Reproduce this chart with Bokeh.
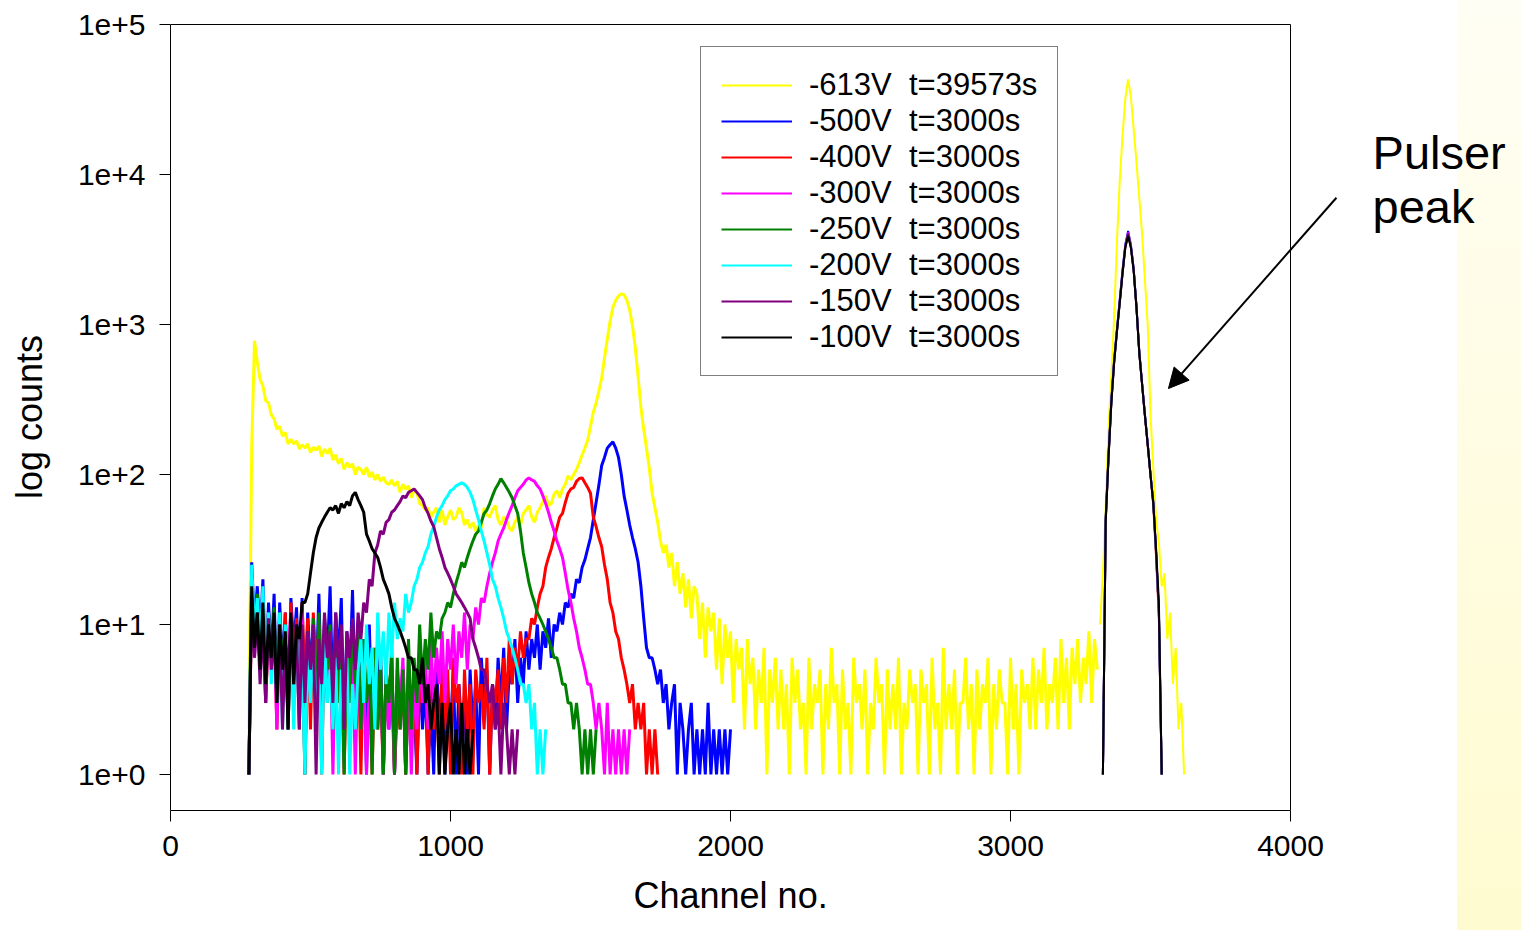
import numpy as np
from bokeh.plotting import figure
from bokeh.models import (Legend, LegendItem, FixedTicker, Arrow, NormalHead,
                          Label, Range1d, Title)
from bokeh.embed import file_html
from bokeh.resources import INLINE

# ---------------- data (counts) ----------------
CH_START = 280          # first channel of the main spectra
PULSER_START = 3320     # first channel of the pulser region
CH_STEP = 10            # channel step

series_labels = ["-613V  t=39573s", "-500V  t=3000s", "-400V  t=3000s",
                 "-300V  t=3000s", "-250V  t=3000s", "-200V  t=3000s",
                 "-150V  t=3000s", "-100V  t=3000s"]
series_colors = ["#FFFF00", "#0000FF", "#FF0000", "#FF00FF",
                 "#008000", "#00FFFF", "#800080", "#000000"]

yellow_main = [2, 150, 780, 560, 430, 390, 310, 300, 250, 235,
               200, 210, 180, 190, 160, 172, 160, 168, 148, 158,
               150, 160, 140, 152, 145, 155, 132, 148, 138, 150,
               125, 135, 118, 128, 108, 120, 112, 118, 100, 112,
               108, 100, 112, 96, 104, 92, 100, 90, 96, 88,
               86, 92, 84, 90, 76, 86, 80, 84, 70, 78,
               76, 64, 62, 58, 60, 52, 56, 60, 48, 58,
               46, 52, 58, 50, 52, 60, 56, 46, 50, 44,
               48, 42, 46, 44, 60, 54, 52, 58, 62, 50,
               46, 52, 50, 44, 42, 48, 52, 46, 55, 58,
               62, 52, 48, 56, 60, 66, 72, 62, 64, 74,
               78, 70, 80, 86, 98, 92, 100, 108, 120, 135,
               150, 170, 210, 260, 300, 360, 440, 600, 800, 1050,
               1300, 1450, 1550, 1600, 1580, 1450, 1250, 980, 700, 450,
               280, 200, 150, 110, 75, 60, 48, 36, 30, 34,
               24, 30, 18, 26, 16, 22, 13, 20, 11, 18,
               16, 8, 14, 6, 13, 9, 12, 5, 11, 4,
               10, 6, 9, 3, 8, 5, 7, 2, 8, 4,
               6, 2, 5, 3, 7, 1, 5, 3, 6, 2,
               5, 2, 4, 1, 6, 3, 5, 2, 3, 1,
               6, 2, 4, 3, 5, 1, 4, 2, 7, 3,
               4, 1, 5, 2, 3, 1, 6, 3, 4, 2,
               5, 1, 3, 2, 6, 3, 4, 1, 5, 2,
               4, 2, 6, 1, 3, 2, 5, 3, 4, 1,
               5, 3, 4, 1, 6, 2, 3, 1, 7, 2,
               4, 2, 5, 1, 3, 3, 6, 2, 4, 1,
               5, 2, 4, 3, 6, 1, 4, 2, 5, 3,
               3, 1, 6, 2, 4, 1, 5, 3, 4, 2,
               6, 2, 5, 3, 7, 2, 4, 3, 6, 2,
               8, 3, 6, 2, 7, 4, 8, 3, 6, 4,
               9, 3, 8, 5]
yellow_pulser = [10, 22, 60, 200, 450, 1100, 3500, 9000, 18000, 32000,
                 43000, 33000, 20000, 12000, 7000, 4000, 2000, 1000, 250, 110,
                 50, 35, 18, 22, 8, 12, 4, 7, 2, 3, 1]

blue_main = [1, 26, 10, 18, 8, 20, 4, 14, 6, 16,
             3, 14, 5, 12, 2, 15, 7, 13, 4, 15,
             2, 12, 5, 10, 4, 16, 3, 11, 6, 18,
             3, 12, 6, 15, 2, 9, 4, 17, 3, 10,
             4, 8, 1, 10, 2, 6, 3, 7, 1, 5,
             2, 6, 1, 4, 3, 5, 1, 4, 2, 3,
             1, 5, 2, 4, 1, 3, 1, 6, 2, 4,
             1, 3, 2, 5, 1, 4, 2, 3, 1, 5,
             2, 4, 1, 6, 3, 5, 1, 4, 2, 6,
             3, 7, 2, 5, 4, 8, 3, 6, 4, 9,
             5, 8, 6, 10, 5, 9, 7, 11, 6, 10,
             9, 12, 10, 14, 13, 16, 15, 20, 19, 24,
             27, 32, 38, 50, 65, 85, 115, 130, 150, 158,
             165, 150, 130, 100, 72, 58, 46, 38, 32, 26,
             18, 11, 7, 6, 6, 5, 4, 5, 3, 4,
             2, 3, 4, 1, 3, 2, 1, 2, 3, 1,
             2, 1, 2, 1, 3, 1, 2, 1, 2, 1,
             2, 1, 2]
blue_pulser = [None, 1, 52, 135, 310, 580, 930, 1450, 2300, 3400,
               4200, 3400, 2350, 1300, 660, 400, 250, 160, 100, 65, 30, 12, 1]

red_main = [1, 16, 7, 13, 5, 12, 3, 10, 6, 11,
            2, 10, 4, 12, 3, 14, 5, 11, 2, 14,
            4, 11, 2, 12, 5, 10, 1, 9, 3, 8,
            2, 9, 4, 8, 1, 7, 3, 6, 2, 8,
            1, 7, 3, 5, 1, 6, 2, 4, 1, 5,
            3, 4, 1, 3, 2, 5, 1, 4, 2, 5,
            1, 4, 3, 6, 1, 5, 2, 4, 1, 6,
            2, 5, 1, 6, 3, 4, 1, 5, 2, 4,
            1, 5, 3, 4, 2, 6, 1, 4, 3, 5,
            2, 6, 3, 8, 4, 7, 5, 9, 6, 8,
            8, 11, 10, 13, 16, 18, 24, 28, 32, 38,
            44, 52, 55, 65, 75, 80, 82, 90, 94, 95,
            88, 82, 75, 52, 45, 38, 33, 25, 20, 14,
            12, 9, 8, 6, 5, 4, 3, 4, 2, 3,
            2, 3, 1, 2, 1, 2, 1]
red_pulser = [None, 1, 48, 128, 295, 550, 890, 1380, 2150, 3250,
              3950, 3250, 2250, 1280, 640, 395, 245, 155, 98, 62, 28, 11, 1]

magenta_main = [1, 18, 6, 14, 8, 11, 3, 12, 5, 9,
                2, 11, 4, 9, 6, 12, 3, 8, 5, 12,
                1, 8, 4, 10, 3, 10, 2, 7, 4, 9,
                1, 7, 3, 8, 2, 6, 3, 8, 1, 6,
                2, 5, 1, 4, 2, 7, 3, 5, 1, 4,
                2, 6, 1, 5, 3, 6, 2, 5, 1, 4,
                2, 7, 3, 6, 2, 8, 3, 7, 4, 9,
                3, 8, 5, 10, 4, 9, 6, 12, 5, 10,
                8, 13, 10, 15, 14, 18, 22, 26, 30, 36,
                40, 44, 50, 56, 62, 70, 78, 82, 86, 92,
                95, 92, 90, 84, 80, 72, 64, 56, 48, 42,
                36, 32, 28, 22, 17, 14, 11, 9, 7, 6,
                5, 4, 4, 3, 2, 3, 2, 1, 3, 1,
                2, 1, 2, 1, 2, 1, 2]
magenta_pulser = [None, 1, 50, 132, 305, 570, 910, 1420, 2250, 3350,
                  4100, 3350, 2320, 1310, 655, 405, 252, 162, 100, 66, 31, 12, 1]

green_main = [1, 20, 7, 16, 9, 14, 4, 12, 6, 13,
              3, 12, 5, 10, 2, 11, 4, 8, 3, 9,
              1, 9, 4, 11, 3, 12, 2, 9, 5, 10,
              2, 9, 3, 7, 1, 8, 3, 10, 4, 9,
              2, 8, 3, 6, 1, 7, 2, 6, 1, 5,
              3, 7, 1, 6, 2, 5, 1, 8, 2, 6,
              3, 10, 4, 8, 5, 12, 6, 9, 8, 11,
              12, 14, 13, 16, 19, 22, 26, 24, 28, 32,
              36, 40, 42, 48, 55, 58, 64, 72, 80, 86,
              94, 88, 82, 76, 70, 62, 55, 42, 30, 24,
              19, 16, 14, 12, 11, 10, 9, 8, 7, 6,
              6, 5, 4, 4, 3, 3, 2, 3, 2, 1,
              2, 1, 2, 1, 2]
green_pulser = [None, 1, 49, 130, 300, 560, 900, 1400, 2200, 3300,
                4000, 3300, 2300, 1300, 650, 400, 250, 160, 100, 65, 30, 12, 1]

cyan_main = [1, 25, 9, 15, 7, 18, 5, 12, 4, 10,
             3, 12, 2, 10, 5, 8, 2, 9, 3, 6,
             1, 7, 3, 8, 2, 6, 1, 8, 3, 5,
             2, 6, 1, 5, 3, 6, 1, 4, 2, 5,
             8, 3, 10, 4, 7, 2, 12, 5, 9, 4,
             12, 6, 14, 8, 11, 9, 16, 12, 14, 18,
             20, 24, 26, 30, 33, 40, 45, 52, 58, 62,
             68, 72, 78, 80, 84, 86, 88, 86, 82, 76,
             68, 58, 50, 42, 36, 30, 25, 20, 18, 15,
             13, 11, 9, 8, 7, 6, 5, 4, 4, 3,
             4, 2, 3, 1, 2, 1, 2]
cyan_pulser = [None, 1, 50, 130, 300, 560, 900, 1400, 2200, 3300,
               4000, 3300, 2300, 1300, 650, 400, 250, 160, 100, 65, 30, 12, 1]

purple_main = [1, 15, 6, 12, 4, 10, 3, 11, 5, 8,
               3, 10, 2, 8, 5, 11, 4, 9, 2, 10,
               3, 9, 5, 10, 1, 8, 4, 12, 6, 9,
               3, 12, 5, 10, 2, 9, 6, 11, 5, 12,
               8, 14, 12, 20, 18, 30, 34, 42, 40, 48,
               50, 56, 58, 62, 66, 72, 70, 76, 78, 80,
               76, 72, 68, 60, 55, 49, 45, 38, 32, 28,
               24, 22, 20, 18, 16, 15, 14, 13, 12, 11,
               8, 7, 6, 5, 5, 4, 3, 4, 2, 3,
               1, 3, 2, 1, 2, 1, 2]
purple_pulser = [None, 1, 51, 132, 305, 565, 905, 1410, 2220, 3320,
                 4050, 3320, 2310, 1300, 650, 400, 250, 160, 100, 65, 30, 12, 1]

black_main = [1, 18, 7, 12, 5, 14, 4, 10, 6, 12,
              3, 10, 5, 9, 2, 12, 4, 10, 8, 14,
              14, 16, 22, 30, 38, 44, 48, 52, 56, 60,
              58, 62, 55, 64, 60, 66, 62, 72, 76, 68,
              62, 56, 40, 36, 32, 30, 28, 24, 20, 18,
              16, 13, 11, 10, 9, 8, 7, 6, 6, 5,
              5, 4, 6, 3, 4, 2, 3, 4, 1, 3,
              1, 2, 3, 1, 2, 1, 3, 1, 2, 1,
              2]
black_pulser = [None, 1, 48, 128, 295, 550, 890, 1380, 2180, 3250,
                3900, 3250, 2280, 1290, 645, 398, 248, 158, 99, 64, 32, 14, 1]

mains = [yellow_main, blue_main, red_main, magenta_main,
         green_main, cyan_main, purple_main, black_main]
pulsers = [yellow_pulser, blue_pulser, red_pulser, magenta_pulser,
           green_pulser, cyan_pulser, purple_pulser, black_pulser]

x_ticks = [0, 1000, 2000, 3000, 4000]
y_ticks = [1, 10, 100, 1000, 10000, 100000]
y_tick_labels = ["1e+0", "1e+1", "1e+2", "1e+3", "1e+4", "1e+5"]

x_title = "Channel no."
y_title = "log counts"
note_lines = ["Pulser", "peak"]
# annotation anchors in data space (channel, counts)
note_pos = [(4293, 14000), (4293, 6100)]
arrow_from = (4164, 7000)
arrow_to = (3564, 374)

# axis extents and visible window (window reaches past the x axis, to the page edge)
X_MIN, X_MAX = 0, 4000
Y_MIN, Y_MAX = 10 ** -0.24, 1e5
X_VIEW_MAX = 4825
Y_VIEW_MAX = 10 ** (5 + 1 / 150)

FONT = "Liberation Sans"

# ---------------- figure ----------------
p = figure(width=1521, height=930,
           x_range=Range1d(X_MIN, X_VIEW_MAX), y_range=Range1d(Y_MIN, Y_VIEW_MAX),
           y_axis_type="log", output_backend="svg", toolbar_location=None,
           min_border_left=170, min_border_right=0,
           min_border_top=23, min_border_bottom=120)
p.background_fill_color = None
p.border_fill_color = None
p.styles = {"background": "linear-gradient(to right, #ffffff 0px, #ffffff 1457px, "
                          "rgba(255,255,255,0) 1457px), "
                          "linear-gradient(to bottom, #fffef4, #fffbd0)"}
p.outline_line_color = None
p.xgrid.grid_line_color = None
p.ygrid.grid_line_color = None

# top and right borders of the plot box
p.segment(x0=[X_MIN, X_MAX], y0=[Y_MAX, Y_MIN], x1=[X_MAX, X_MAX], y1=[Y_MAX, Y_MAX],
          line_color="black", line_width=1)

items = []
for lab, col, main, pul in zip(series_labels, series_colors, mains, pulsers):
    xm = np.array([CH_START + CH_STEP * i for i in range(len(main))], dtype=float)
    ym = np.array(main, dtype=float)
    xp = np.array([PULSER_START + CH_STEP * i for i in range(len(pul))], dtype=float)
    yp = np.array([np.nan if v is None else v for v in pul], dtype=float)
    r_main = p.line(xm, ym, line_color=col, line_width=3)
    r_pul = p.line(xp, yp, line_color=col, line_width=2)
    items.append(LegendItem(label=lab, renderers=[r_pul]))

# axes
p.xaxis.ticker = FixedTicker(ticks=x_ticks)
p.yaxis.ticker = FixedTicker(ticks=y_ticks)
p.yaxis.major_label_overrides = {float(t): s for t, s in zip(y_ticks, y_tick_labels)}
p.xaxis.bounds = (X_MIN, X_MAX)
p.yaxis.bounds = (Y_MIN, Y_MAX)
p.yaxis.axis_label = y_title
for ax in (p.xaxis[0], p.yaxis[0]):
    ax.axis_line_color = "black"
    ax.axis_line_width = 1
    ax.major_tick_line_color = "black"
    ax.major_tick_out = 11
    ax.major_tick_in = 0
    ax.minor_tick_line_color = None
    ax.major_label_text_font = FONT
    ax.major_label_text_font_size = "30px"
    ax.major_label_text_color = "black"
    ax.axis_label_text_font = FONT
    ax.axis_label_text_font_size = "36px"
    ax.axis_label_text_font_style = "normal"
    ax.axis_label_text_color = "black"
p.xaxis.major_label_standoff = 14
p.yaxis.major_label_standoff = 14
p.yaxis.axis_label_standoff = 25

# x-axis title, centred under the 0..4000 axis
p.add_layout(Title(text=x_title, align="left", offset=463, standoff=28,
                   vertical_align="bottom",
                   text_font=FONT, text_font_size="36px",
                   text_font_style="normal", text_color="black"), "below")

legend = Legend(items=items, location=(530, 434))
legend.label_text_font = FONT
legend.label_text_font_size = "31px"
legend.label_text_color = "black"
legend.glyph_width = 71
legend.glyph_height = 20
legend.label_standoff = 17
legend.spacing = 0
legend.padding = 20
legend.margin = 0
legend.border_line_color = "black"
legend.border_line_width = 1
legend.background_fill_color = "white"
legend.background_fill_alpha = 1.0
p.add_layout(legend)

for (nx, ny), txt in zip(note_pos, note_lines):
    p.add_layout(Label(x=nx, y=ny, text=txt, text_font=FONT,
                       text_font_size="47px", text_color="black",
                       text_baseline="alphabetic", text_align="left"))

p.add_layout(Arrow(end=NormalHead(size=20, fill_color="black", line_color="black"),
                   x_start=arrow_from[0], y_start=arrow_from[1],
                   x_end=arrow_to[0], y_end=arrow_to[1],
                   line_color="black", line_width=2))

open("out.html", "w").write(file_html(p, INLINE))
